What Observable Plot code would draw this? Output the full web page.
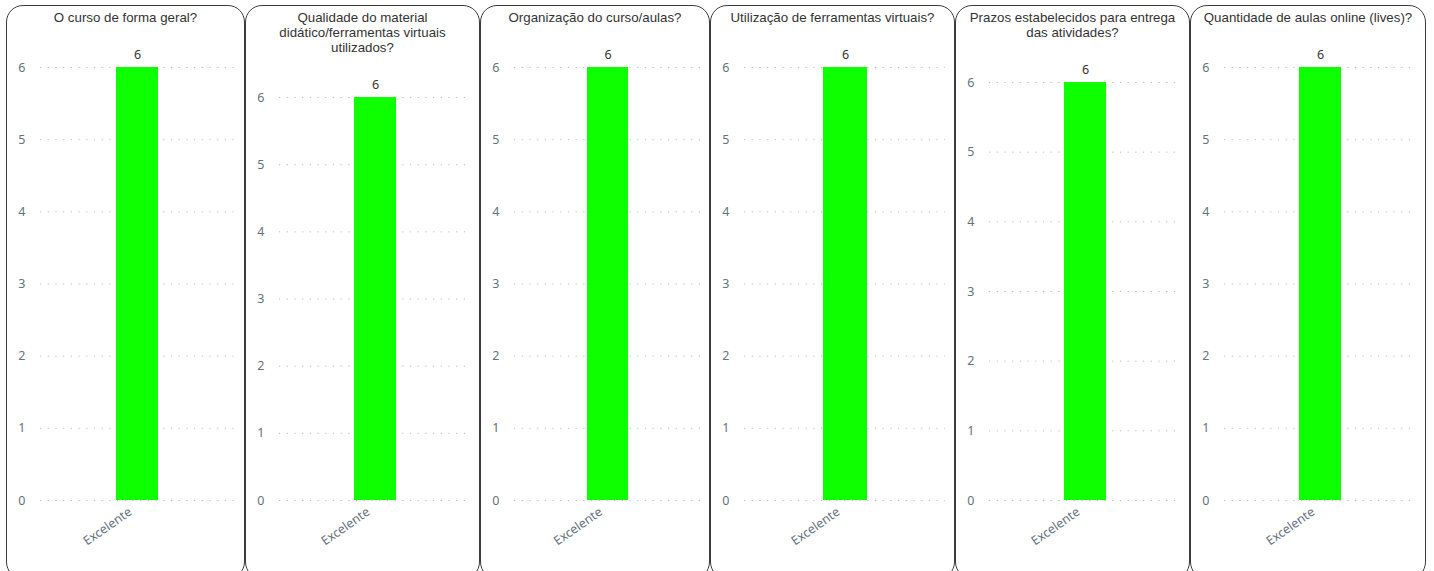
<!DOCTYPE html>
<html>
<head>
<meta charset="utf-8">
<script src="https://cdn.jsdelivr.net/npm/d3@7"></script>
<script src="https://cdn.jsdelivr.net/npm/@observablehq/plot@0.6"></script>
<style>
  html, body { margin: 0; padding: 0; background: #fff; overflow: hidden; }
  #root { position: relative; width: 1434px; height: 571px; }
  .panel {
    position: absolute; top: 5px; height: 574px;
    box-sizing: border-box; border: 1.6px solid #3c3c3c; border-radius: 17px;
    background: #fff; overflow: hidden;
  }
  .title {
    font-family: "Liberation Sans", Arial, sans-serif; font-size: 13.3px; color: #333;
    text-align: center; line-height: 15px; padding-top: 4px; white-space: pre-line;
  }
  .panel svg { display: block; }
</style>
</head>
<body>
<div id="root"></div>
<script>
// ---- data ----
const questions = [
  "O curso de forma geral?",
  "Qualidade do material\ndidático/ferramentas virtuais\nutilizados?",
  "Organização do curso/aulas?",
  "Utilização de ferramentas virtuais?",
  "Prazos estabelecidos para entrega\ndas atividades?",
  "Quantidade de aulas online (lives)?"
];
const categories = ["Excelente"];
const counts = [6, 6, 6, 6, 6, 6];
const yTicks = [0, 1, 2, 3, 4, 5, 6];

// ---- layout ----
const panelLefts = [6, 245, 480, 710, 955, 1190];
const panelWidths = [239, 235, 230, 245, 235, 236];

const root = document.getElementById("root");
questions.forEach((q, i) => {
  const panel = document.createElement("div");
  panel.className = "panel";
  panel.style.left = panelLefts[i] + "px";
  panel.style.width = panelWidths[i] + "px";
  const t = document.createElement("div");
  t.className = "title";
  t.textContent = q;
  panel.appendChild(t);
  root.appendChild(panel);

  const lines = q.split("\n").length;
  const svgTop = 5 + 1.5 + 4 + 15 * lines;
  const marginTop = 42;
  const marginBottom = 70;
  const height = Math.round(500 - svgTop + marginBottom);
  const width = panelWidths[i] - 3;

  const data = categories.map(c => ({category: c, value: counts[i]}));
  const chart = Plot.plot({
    width, height,
    marginTop, marginBottom, marginLeft: 33, marginRight: 8,
    style: {fontFamily: "'Noto Sans', 'Open Sans', sans-serif", fontSize: "11.5px", background: "transparent"},
    x: {type: "band", domain: categories, padding: 0.64, label: null},
    y: {domain: [0, 6], label: null},
    marks: [
      Plot.gridY(yTicks, {stroke: "#b8b8b8", strokeOpacity: 1, strokeDasharray: "1.2,6.5", strokeWidth: 1}),
      Plot.axisY(yTicks, {tickSize: 0, tickPadding: 15, tickFormat: d3.format("d"), fill: "#66717e", label: null, fontSize: 12.5}),
      Plot.axisX({tickSize: 0, tickPadding: 10, tickRotate: -35, dx: -7, fill: "#66717e", label: null, fontSize: 12.5}),
      Plot.barY(data, {x: "category", y: "value", fill: "#0dff00"}),
      Plot.text(data, {x: "category", y: "value", text: d => String(d.value), dy: -13, fill: "#333", fontSize: 12.5})
    ]
  });
  panel.appendChild(chart);
});
</script>
</body>
</html>
